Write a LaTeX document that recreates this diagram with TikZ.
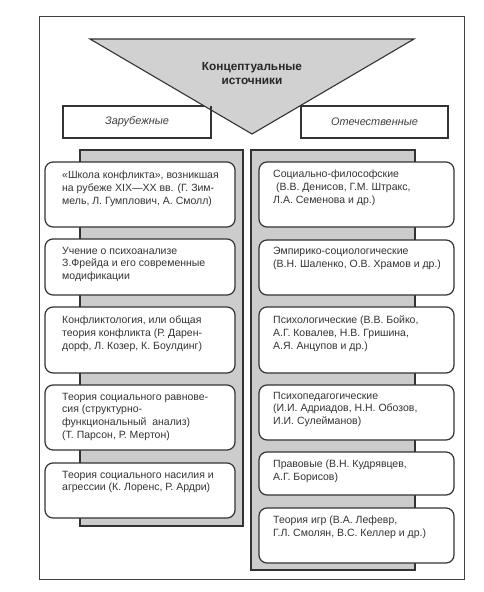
\documentclass[tikz,border=0pt]{standalone}
\usepackage{fontspec}
\setmainfont{Liberation Sans}
\begin{document}
\begin{tikzpicture}[x=1pt,y=-1pt,
  frame/.style={draw=black!75,line width=0.9pt},
  panel/.style={draw=black!80,fill=black!20,line width=1.1pt},
  tri/.style={draw=black!80,fill=black!18,line width=1.1pt},
  lab/.style={draw=black!80,fill=white,line width=1.1pt},
  labtxt/.style={font=\fontsize{10.9}{12}\selectfont\itshape,text=black!75},
  box/.style={draw=black!80,fill=white,line width=1.2pt,rounded corners=8pt},
  txt/.style={font=\fontsize{10.5}{12.7}\selectfont,text=black!80,align=left,inner sep=0pt,anchor=north west},
  ttl/.style={font=\fontsize{11.8}{14}\selectfont\bfseries,text=black!85,align=center,inner sep=0pt}
]
\useasboundingbox (0,0) rectangle (483,592);
\draw[frame] (39,16) rectangle (464,579);
% label boxes
\draw[lab] (63,106) rectangle (211,138);
\draw[lab] (301,106) rectangle (448,138);
% triangle
\coordinate (tl) at (90,39);
\coordinate (tr) at (414,39);
\coordinate (ap) at (252,134);
\draw[tri] (tl) -- (tr) -- (ap) -- cycle;
\draw[black!80,line width=1.1pt] (211,106) -- (211,112) (301,106) -- (301,112);
\node[ttl] (title) at (252,73) {Концептуальные\\источники};
\node[labtxt] (zar) at (137,122) {Зарубежные};
\node[labtxt] (ote) at (374.5,122) {Отечественные};
% panels
\draw[panel] (80,150) rectangle (243,526);
\draw[panel] (251,150) rectangle (415,570);
% left boxes
\draw[box] (45,162) rectangle (235,227);
\node[txt] (l1) at (62,170.8) {«Школа конфликта», возникшая\\на рубеже XIX—XX вв. (Г. Зим-\\мель, Л. Гумплович, А. Смолл)};
\draw[box] (45,239) rectangle (235,295);
\node[txt] (l2) at (62,246.8) {Учение о психоанализе\\З.Фрейда и его современные\\модификации};
\draw[box] (45,307) rectangle (235,373);
\node[txt] (l3) at (62,315.8) {Конфликтология, или общая\\теория конфликта (Р. Дарен-\\дорф, Л. Козер, К. Боулдинг)};
\draw[box] (45,385) rectangle (235,450);
\node[txt] (l4) at (62,392.8) {Теория социального равнове-\\сия (структурно-\\функциональный\ \ анализ)\\(Т. Парсон, Р. Мертон)};
\draw[box] (45,463) rectangle (235,518);
\node[txt] (l5) at (62,470.8) {Теория социального насилия и\\агрессии (К. Лоренс, Р. Ардри)};
% right boxes
\draw[box] (259,162) rectangle (454,227);
\node[txt] (r1) at (273,169.8) {Социально-философские\\\ (В.В. Денисов, Г.М. Штракс,\\Л.А. Семенова и др.)};
\draw[box] (259,240) rectangle (454,295);
\node[txt] (r2) at (273,246.8) {Эмпирико-социологические\\(В.Н. Шаленко, О.В. Храмов и др.)};
\draw[box] (259,307) rectangle (454,373);
\node[txt] (r3) at (273,315.8) {Психологические (В.В. Бойко,\\А.Г. Ковалев, Н.В. Гришина,\\А.Я. Анцупов и др.)};
\draw[box] (259,385) rectangle (454,440);
\node[txt] (r4) at (273,391.8) {Психопедагогические\\(И.И. Адриадов, Н.Н. Обозов,\\И.И. Сулейманов)};
\draw[box] (259,452) rectangle (454,495);
\node[txt] (r5) at (273,459.8) {Правовые (В.Н. Кудрявцев,\\А.Г. Борисов)};
\draw[box] (259,508) rectangle (454,563);
\node[txt] (r6) at (273,515.8) {Теория игр (В.А. Лефевр,\\Г.Л. Смолян, В.С. Келлер и др.)};
\end{tikzpicture}
\end{document}
